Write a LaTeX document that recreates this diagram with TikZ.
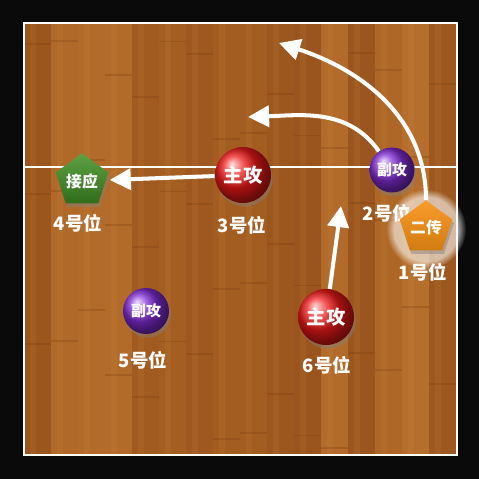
\documentclass[tikz,border=0pt]{standalone}
\usepackage{fontspec}
\newfontfamily\cjk{Noto Sans CJK SC}
\usetikzlibrary{shapes.geometric,arrows.meta,shadows,fadings}

\definecolor{wood}{RGB}{170,98,36}
\definecolor{wooddark}{RGB}{110,52,14}
\definecolor{woodlight}{RGB}{214,146,70}
\definecolor{ballred}{RGB}{240,25,25}
\definecolor{ballpurple}{RGB}{130,45,215}
\definecolor{pentgreen}{RGB}{66,145,36}
\definecolor{pentorange}{RGB}{248,145,20}

\begin{document}
\begin{tikzpicture}[x=0.02cm,y=-0.02cm,
  ball/.style={circle,inner sep=0pt,text=white,font=\cjk\bfseries,
    drop shadow={opacity=0.45,shadow xshift=1pt,shadow yshift=-2pt}},
  pent/.style={regular polygon,regular polygon sides=5,inner sep=0pt,
    minimum size=1.1cm,text=white,font=\cjk\bfseries\fontsize{9}{9}\selectfont,
    drop shadow={opacity=0.45,shadow xshift=1pt,shadow yshift=-2pt}},
  spot/.style={text=white,font=\cjk\bfseries\fontsize{10.5}{10.5}\selectfont},
  run/.style={white,line width=2.3pt,-{Triangle[length=12pt,width=12pt]}}]
\useasboundingbox (0,0) rectangle (479,479);
\fill[black!96] (0,0) rectangle (479,479);

% the floor
\fill[wood] (24,23) rectangle (457,455);
\pgfmathsetseed{7}
\begin{scope}
\clip (24,23) rectangle (457,455);
\foreach \i in {0,...,15}{
  \pgfmathsetmacro\o{0.05+0.22*rnd}
  \pgfmathsetmacro\j{25+140*rnd}
  \pgfmathsetmacro\d{rnd}
  \ifdim\d pt>0.5pt \def\c{woodlight}\else\def\c{wooddark}\fi
  \fill[\c,opacity=\o] (24+27*\i,23) rectangle +(27,432);
  \fill[woodlight,opacity=0.12] (30+27*\i,23) rectangle +(6,432);
  \foreach \k in {0,1,2}
    \draw[wooddark,opacity=0.22,line width=1pt] (24+27*\i,\j+150*\k) -- +(27,0);
}
\end{scope}

% net line and frame
\draw[white,line width=1.6pt] (24,167) -- (457,167);
\draw[white,line width=1.6pt] (24,23) rectangle (457,455);

% positions
\node[spot] (l4) at (78,223) {4号位};
\node[spot] (l3) at (242,225) {3号位};
\node[spot] (l2) at (387,213) {2号位};
\node[spot] (l1) at (423,272) {1号位};
\node[spot] (l5) at (143,360) {5号位};
\node[spot] (l6) at (327,365) {6号位};

% players
\node[pent,top color=pentgreen!85!white,bottom color=pentgreen!75!black] (p4) at (82,181) {接应};
\node[ball,ball color=ballred,minimum size=1.12cm,font=\cjk\bfseries\fontsize{11}{11}\selectfont] (a3) at (243,175) {主攻};
\node[ball,ball color=ballpurple,minimum size=0.9cm,font=\cjk\bfseries\fontsize{8.5}{8.5}\selectfont] (b2) at (392,170) {副攻};
\node[ball,ball color=ballpurple,minimum size=0.92cm,font=\cjk\bfseries\fontsize{8.5}{8.5}\selectfont] (b5) at (146,311) {副攻};
\node[ball,ball color=ballred,minimum size=1.12cm,font=\cjk\bfseries\fontsize{11}{11}\selectfont] (a6) at (326,317) {主攻};

% runs
\coordinate (t2) at (248,117);
\coordinate (t3) at (279,43);
\coordinate (t4) at (341,206);
\draw[run,shorten >=2pt] (a3) -- (p4);
\draw[run] (b2.125) to[out=125,in=2] (t2);
\draw[run] (a6) -- (t4);

% setter
\fill[white,opacity=0.6,path fading=circle with fuzzy edge 20 percent] (426,229) circle (40);
\node[pent,top color=pentorange!90!white,bottom color=pentorange!85!black,minimum size=1.04cm] (p1) at (426,228) {二传};
\draw[run] (p1.north) to[out=90,in=-18] (t3);
\end{tikzpicture}
\end{document}
